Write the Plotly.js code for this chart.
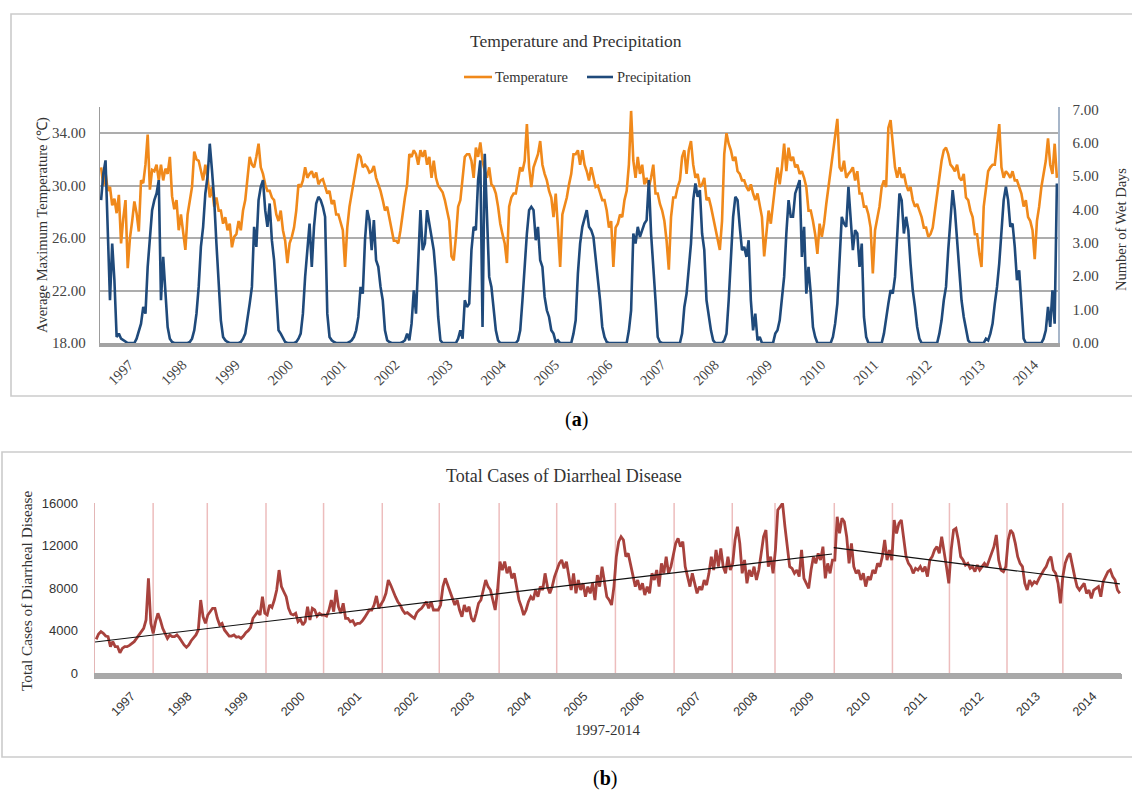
<!DOCTYPE html>
<html>
<head>
<meta charset="utf-8">
<script src="https://cdn.plot.ly/plotly-3.0.1.min.js"></script>
<style>html,body{margin:0;padding:0;background:#fff;}#chart{width:1132px;height:792px;}</style>
</head>
<body>
<div id="chart"></div>
<script>
// ---- categories ----
const years = [1997,1998,1999,2000,2001,2002,2003,2004,2005,2006,2007,2008,2009,2010,2011,2012,2013,2014];
const periodsPerYear = 24; // half-month readings

// ---- panel (a): average maximum temperature (°C), half-monthly ----
const temperature = [
31.4,30.0,31.0,29.6,29.9,28.5,29.0,27.9,29.3,25.6,27.5,28.9,23.7,26.0,27.3,28.8,27.9,26.5,30.4,30.2,31.6,33.9,29.7,31.2,
31.1,31.6,30.4,31.6,30.4,31.3,30.9,32.2,29.2,28.2,28.9,26.6,27.8,26.3,25.1,27.8,28.9,29.9,32.6,32.0,31.9,31.2,30.4,31.6,
30.6,29.1,29.9,28.4,29.1,28.1,28.1,27.1,27.6,26.6,27.1,25.3,26.1,26.3,27.3,26.6,28.1,28.9,30.4,32.2,31.6,31.4,32.2,33.2,
31.4,30.9,30.1,29.6,29.6,29.1,28.9,27.8,27.3,28.1,26.6,25.8,24.1,25.6,26.1,26.8,28.1,30.1,29.9,30.4,31.4,30.6,30.9,31.1,
30.6,31.0,30.1,30.4,30.5,29.9,29.4,29.6,28.6,28.9,27.8,27.8,27.1,26.6,23.8,26.8,28.4,29.4,30.1,31.4,32.4,32.2,31.4,31.6,
31.4,31.0,31.1,31.5,30.6,30.1,29.6,28.9,28.1,28.4,27.6,26.8,25.8,25.8,25.6,26.6,28.1,29.1,30.1,32.4,32.2,32.7,32.4,31.6,
32.7,32.2,32.7,31.6,32.2,30.6,31.9,30.6,30.0,29.7,29.5,28.9,28.1,27.3,24.6,24.3,26.1,28.4,28.9,30.6,32.2,32.4,32.4,31.9,
30.6,32.9,32.2,33.3,31.9,31.1,30.6,31.4,30.1,29.9,29.4,28.4,27.1,26.3,25.6,24.1,28.4,29.1,29.4,29.4,30.4,31.4,31.1,31.9,
34.7,31.4,29.9,31.4,31.9,32.4,33.4,31.6,30.9,30.4,29.6,29.1,27.6,29.4,26.8,23.8,27.8,28.4,29.1,30.1,30.9,32.4,32.4,32.7,
31.6,32.7,31.6,31.1,30.4,31.4,30.6,29.9,30.0,29.4,28.9,28.9,28.1,26.8,27.3,23.8,26.8,27.1,27.8,27.6,28.9,29.6,31.6,35.7,
31.9,30.6,32.2,30.9,31.6,30.1,30.6,29.9,30.6,31.6,29.4,29.4,28.6,28.1,27.3,25.8,23.6,27.6,29.1,29.1,29.9,30.4,32.2,32.7,
30.9,32.7,33.4,31.6,30.6,30.9,29.9,30.1,30.6,28.9,29.1,28.4,27.6,26.6,25.8,25.1,27.3,32.4,34.0,33.2,32.7,31.9,32.2,31.1,
30.9,30.4,30.4,29.9,29.6,30.1,29.4,28.9,29.4,28.6,27.6,24.6,26.6,28.1,27.1,28.9,30.1,31.4,30.1,31.4,33.2,31.1,32.9,31.9,
32.2,31.4,31.6,30.9,31.1,30.6,29.9,28.1,28.1,27.3,26.3,24.8,27.1,26.1,27.1,28.6,29.9,30.9,32.4,33.4,35.1,31.4,31.1,31.9,
30.6,30.9,31.1,31.4,30.4,31.1,29.4,29.4,28.4,28.4,27.8,26.8,23.3,26.6,27.6,28.4,29.9,30.4,29.9,34.4,35.0,33.4,31.4,30.6,
31.4,30.6,30.9,30.1,29.6,29.9,28.9,28.4,28.6,28.1,27.6,26.8,26.8,26.1,26.3,26.8,28.1,29.6,30.9,31.9,32.7,32.9,32.4,31.6,
31.4,31.1,31.6,30.6,30.4,30.9,29.1,28.9,28.1,27.6,26.3,26.3,24.8,23.8,28.4,29.9,31.1,31.4,31.6,31.6,33.4,34.7,31.4,30.6,
31.1,30.9,30.6,31.1,30.4,30.4,29.9,29.4,28.4,28.9,27.6,27.3,26.6,24.4,27.3,28.4,29.9,31.1,31.9,33.6,31.6,30.9,33.2,30.6
];

// ---- panel (a): number of wet days, half-monthly ----
const precipitation = [
4.28,5.07,5.47,3.08,1.28,2.98,1.88,0.18,0.28,0.13,0.08,0.03,0,0,0,0,0.13,0.38,0.58,1.08,0.88,2.28,3.28,3.98,
4.28,4.48,4.88,1.28,2.58,1.48,0.48,0.13,0.03,0,0,0,0,0,0,0,0.03,0.13,0.38,0.88,1.68,2.88,3.48,4.48,
4.98,5.97,5.17,4.28,2.98,1.68,0.68,0.18,0.08,0.03,0,0,0,0,0,0.03,0.13,0.28,0.68,1.18,1.68,3.48,2.88,4.28,
4.68,4.88,3.98,3.48,4.18,3.08,2.48,1.48,0.38,0.28,0.13,0.03,0,0,0,0,0.03,0.13,0.28,0.88,1.98,2.68,3.58,2.28,
3.48,4.18,4.38,4.28,4.08,3.78,0.88,0.18,0.08,0.03,0,0,0,0,0,0,0.03,0.08,0.18,0.38,0.78,1.68,1.48,3.08,
3.98,3.68,2.78,3.68,2.48,2.28,1.68,1.28,0.38,0.08,0.03,0,0,0,0,0,0.03,0.08,0.28,0.08,0.58,1.58,0.88,2.48,
3.98,2.78,2.98,3.98,3.58,3.28,2.78,1.98,0.78,0.08,0,0,0,0,0,0,0,0.13,0.38,0.13,1.28,1.08,1.18,2.78,
3.48,3.38,4.88,5.47,0.48,5.67,4.08,1.98,1.68,1.08,0.38,0.08,0,0,0,0,0,0,0,0,0.08,0.38,1.28,2.48,
3.28,3.98,4.08,3.98,3.08,3.48,2.48,2.28,1.38,0.98,0.78,0.38,0.28,0.03,0.08,0,0,0,0,0,0,0.28,0.68,2.08,
2.98,3.48,3.78,3.98,3.48,3.38,3.18,2.58,1.88,1.28,0.48,0.18,0.03,0,0,0,0,0,0,0,0,0,0.38,0.98,
3.28,2.98,3.48,3.18,3.38,3.58,3.68,4.88,3.28,2.08,1.28,0.18,0.03,0,0,0,0,0,0,0,0,0,0.28,1.08,
1.48,2.28,2.98,4.28,4.78,4.38,4.58,3.28,2.78,1.28,0.78,0.38,0.08,0,0,0,0,0.08,0.28,1.28,2.38,3.78,4.38,4.28,
3.48,2.78,2.88,2.58,3.08,1.28,0.38,0.88,0.08,0.18,0,0,0,0,0,0,0.28,0.38,0.68,1.28,1.98,3.28,4.28,3.78,
3.78,4.48,4.68,4.88,2.58,3.48,1.48,2.28,1.48,0.48,0.18,0,0,0,0,0,0,0,0.18,0.58,1.18,2.48,3.78,3.58,
3.48,4.68,3.78,2.78,3.38,3.28,2.28,2.98,0.78,0.18,0,0,0,0,0,0,0,0.28,0.78,1.18,1.58,1.48,1.98,3.28,
4.48,4.28,3.28,3.78,3.38,2.38,1.58,1.08,0.48,0.13,0,0,0,0,0,0,0,0,0.28,0.68,1.28,1.68,2.78,3.58,
4.58,3.98,3.08,2.08,1.28,0.78,0.38,0.08,0,0,0,0,0,0,0,0.13,0.08,0.28,0.58,1.18,1.68,2.38,3.28,4.28,
4.68,4.28,3.48,3.58,2.88,1.88,2.18,0.98,0.13,0,0,0,0,0,0,0,0,0.13,0.38,1.08,0.48,1.58,0.58,4.78
];

// ---- panel (b): total cases of diarrheal disease, half-monthly ----
const diarrhealCases = [
3170,3670,3890,3730,3480,3420,2480,2950,2480,2480,1910,2320,2480,2480,2600,2790,2950,3260,3580,3890,4200,4990,8910,4670,
3730,4830,5620,4990,4200,3730,3260,3580,3420,3420,3580,3330,2950,2640,2420,2640,3040,3260,3580,4050,6870,5300,4670,5460,
5770,6090,6090,5150,4520,4670,4050,3730,3480,3480,3580,3360,3420,3260,3480,3800,3980,4270,5150,5460,5770,5460,7180,5620,
5460,6400,6180,6870,7810,9690,8130,7650,7180,6090,5550,5460,5620,4830,5050,4520,4830,6240,4990,6090,5930,5360,5620,5460,
5460,5360,5930,6870,5770,7810,6240,5620,6560,5150,5150,4830,4930,4520,4670,4670,4890,5210,5550,5930,5930,6400,7250,6090,
6490,6870,7500,8750,8280,7650,7180,6710,6400,5930,5620,5680,5460,5300,5150,5680,5930,6090,6400,6710,6090,6710,5930,5930,
5930,6400,8130,8910,8280,7810,7180,6400,6870,5930,5300,6400,5770,6240,5150,4830,5620,6560,6870,7810,8750,8130,7810,6870,
5930,7810,10480,9690,10480,9380,10010,8910,9380,8130,6870,6240,5460,5930,6710,7180,6870,7810,7180,8130,7810,9380,8130,7500,
8130,9070,9690,10320,10640,9850,10480,9070,7810,9380,7500,8750,7810,8440,7180,8130,7500,8440,6870,9220,8130,10010,8750,7180,
6870,6400,8130,10950,12360,12830,12520,10950,11260,10320,9070,8130,8750,7810,8440,7340,8130,7500,9380,8750,9690,8130,10320,9380,
10950,9380,10010,11260,12200,12670,11890,12360,10010,9070,8130,9380,8440,7500,8130,7810,8750,8280,9380,10950,9690,11580,10010,11730,
10010,9380,10950,9690,10320,12520,13770,12200,9380,10640,8440,9690,9070,10010,8750,9690,11260,12830,13460,10010,10950,9380,11580,15340,
15650,15970,13770,11580,10010,9850,9380,9690,9070,11580,8910,8440,7970,9690,10950,10320,11260,10630,11890,8910,10320,9380,10630,10630,
14710,13140,14560,14240,12830,10320,12200,10010,9380,9690,8750,9380,8130,9070,8750,9690,9380,10320,10010,10950,12520,10630,11580,10630,
14400,13140,14090,14400,12520,10950,10320,10010,9380,9850,9690,10010,9540,10010,9070,10630,10950,11580,11890,11260,12830,11580,10010,8440,
11580,13460,13610,12520,10950,10630,10160,10320,9850,10010,9540,10160,9690,10010,10320,10010,10630,11260,11890,12990,10630,9690,9540,10010,
12520,13460,13140,12200,10950,10320,10010,8440,7810,8750,8280,8600,8440,8910,9380,9690,10010,10630,10950,9690,9380,8440,6560,9070,
10320,10950,11260,10010,9070,8130,7810,8130,8440,7500,7810,7030,7810,7970,8130,7180,8600,9070,9540,9690,9070,8750,7810,7500
];

// ---- panel (b): piecewise trend line ----
const trendX = [1997.0, 2009.93, null, 2009.96, 2014.98];
const trendY = [2920, 11200, null, 11800, 8380];

// ---- panel (b): reddish vertical year separator positions (fractional years) ----
const separatorYears = [1998.02,1998.97,2000.0,2001.01,2002.04,2003.04,2004.09,2005.10,2006.13,2007.16,2008.18,2008.93,2009.97,2010.99,2011.99,2013.0,2013.98];

// ---- tick labels ----
const tempTicks = [18,22,26,30,34];
const wetTicks = [0,1,2,3,4,5,6,7];
const caseTicks = [0,4000,8000,12000,16000];

// ---------- build ----------
const xTime = [];
years.forEach(y => { for (let k = 0; k < periodsPerYear; k++) xTime.push(y + (k + 0.5) / periodsPerYear); });

const W = 1132, H = 792;
const px = v => v / W;
const py = v => 1 - v / H;
const serif = 'Liberation Serif, Times New Roman, serif';
const sans = 'Liberation Sans, Arial, sans-serif';

const traces = [
  {x: xTime, y: temperature, type: 'scatter', mode: 'lines', xaxis: 'x', yaxis: 'y',
   line: {color: '#F0891B', width: 2.6}, name: 'Temperature', showlegend: false, hoverinfo: 'skip'},
  {x: xTime, y: precipitation, type: 'scatter', mode: 'lines', xaxis: 'x', yaxis: 'y2',
   line: {color: '#1F4A7B', width: 2.6}, name: 'Precipitation', showlegend: false, hoverinfo: 'skip'},
  {x: xTime, y: diarrhealCases, type: 'scatter', mode: 'lines', xaxis: 'x2', yaxis: 'y3',
   line: {color: '#A8423D', width: 2.8}, name: 'Cases', showlegend: false, hoverinfo: 'skip'},
  {x: trendX, y: trendY, type: 'scatter', mode: 'lines', xaxis: 'x2', yaxis: 'y3',
   line: {color: '#111', width: 1.2}, connectgaps: false, showlegend: false, hoverinfo: 'skip'}
];

const shapes = [];
// panel borders
shapes.push({type: 'rect', xref: 'paper', yref: 'paper', x0: px(11), x1: px(1140), y0: py(396), y1: py(14),
  line: {color: '#CBCBCB', width: 1.6}, layer: 'below'});
shapes.push({type: 'rect', xref: 'paper', yref: 'paper', x0: px(2), x1: px(1140), y0: py(757), y1: py(452),
  line: {color: '#CBCBCB', width: 1.6}, layer: 'below'});
// separators in panel b
separatorYears.forEach(v => shapes.push({type: 'line', xref: 'x2', yref: 'paper', x0: v, x1: v,
  y0: py(673), y1: py(503), line: {color: '#EDBDBD', width: 1.5}, layer: 'below'}));
// manual legend samples
shapes.push({type: 'line', xref: 'paper', yref: 'paper', x0: px(464), x1: px(492), y0: py(77), y1: py(77), line: {color: '#F0891B', width: 2.6}});
shapes.push({type: 'line', xref: 'paper', yref: 'paper', x0: px(587), x1: px(613), y0: py(77), y1: py(77), line: {color: '#1F4A7B', width: 2.6}});

const ann = (text, x, y, size, opts = {}) => Object.assign({text, x: px(x), y: py(y), xref: 'paper', yref: 'paper',
  showarrow: false, xanchor: 'center', yanchor: 'middle', font: {family: serif, size, color: '#333'}}, opts);

const annotations = [
  ann('Temperature and Precipitation', 576, 41, 17.5),
  ann('Temperature', 493, 77, 14.5, {xanchor: 'left'}),
  ann('Precipitation', 615, 77, 14.5, {xanchor: 'left'}),
  ann('Average Maximum Temperature (℃)', 42, 225, 14.5, {textangle: -90}),
  ann('Number of Wet Days', 1121, 230, 14.5, {textangle: -90}),
  ann('(<b>a</b>)', 576, 419, 20, {font: {family: serif, size: 20, color: '#000'}}),
  ann('Total Cases of Diarrheal Disease', 564, 476, 18),
  ann('Total Cases of Diarrheal Disease', 26, 591, 15.3, {textangle: -90}),
  ann('1997-2014', 607, 730, 15),
  ann('(<b>b</b>)', 605, 778, 20, {font: {family: serif, size: 20, color: '#000'}})
];

const layout = {
  width: W, height: H, margin: {l: 0, r: 0, t: 0, b: 0}, paper_bgcolor: '#fff', plot_bgcolor: 'rgba(0,0,0,0)',
  showlegend: false,
  xaxis: {domain: [px(100), px(1058)], range: [1997, 2015], anchor: 'y', showgrid: false, zeroline: false,
    showline: true, linecolor: '#A3A3A3', linewidth: 3.5, ticks: '',
    tickmode: 'array', tickvals: years.map(y => y + 0.55), ticktext: years.map(String), tickangle: -45,
    tickfont: {family: serif, size: 14.5, color: '#444'}, ticklabelstandoff: 4},
  yaxis: {domain: [py(343), py(107)], range: [18, 36], anchor: 'x', tickmode: 'array', tickvals: tempTicks,
    ticktext: tempTicks.map(v => v.toFixed(2)), showgrid: true, gridcolor: '#ADADAD', gridwidth: 2, zeroline: false,
    showline: true, linecolor: '#9C9C9C', linewidth: 1.2, ticks: '', ticklabelstandoff: 10,
    tickfont: {family: serif, size: 15, color: '#444'}},
  yaxis2: {domain: [py(343), py(107)], range: [0, 7.07], overlaying: 'y', side: 'right', anchor: 'x',
    tickmode: 'array', tickvals: wetTicks, ticktext: wetTicks.map(v => v.toFixed(2)), showgrid: false, zeroline: false,
    showline: true, linecolor: '#A7B6C9', linewidth: 1.5, ticks: '', ticklabelstandoff: 10,
    tickfont: {family: serif, size: 15, color: '#444'}},
  xaxis2: {domain: [px(95), px(1121)], range: [1997, 2015], anchor: 'y3', showgrid: false, zeroline: false,
    showline: true, linecolor: '#A8A8A8', linewidth: 1, ticks: '',
    tickmode: 'array', tickvals: years.map((y, k) => y + 0.64 - 0.0077 * k), ticktext: years.map(String), tickangle: -45,
    tickfont: {family: sans, size: 12.5, color: '#333'}, ticklabelstandoff: 10,
    minor: {ticks: 'outside', ticklen: 5, tickwidth: 1.2, tickcolor: '#A9A9A9', tick0: 1997, dtick: 1 / 52}},
  yaxis3: {domain: [py(673), py(503)], range: [0, 16000], anchor: 'x2', tickmode: 'array', tickvals: caseTicks,
    ticktext: caseTicks.map(String), showgrid: false, zeroline: false, showline: true, linecolor: '#E3B6B6', linewidth: 1.5,
    ticks: '', ticklabelstandoff: 13, tickfont: {family: sans, size: 13, color: '#333'}},
  shapes, annotations
};

Plotly.newPlot('chart', traces, layout, {staticPlot: true, displayModeBar: false});
</script>
</body>
</html>
